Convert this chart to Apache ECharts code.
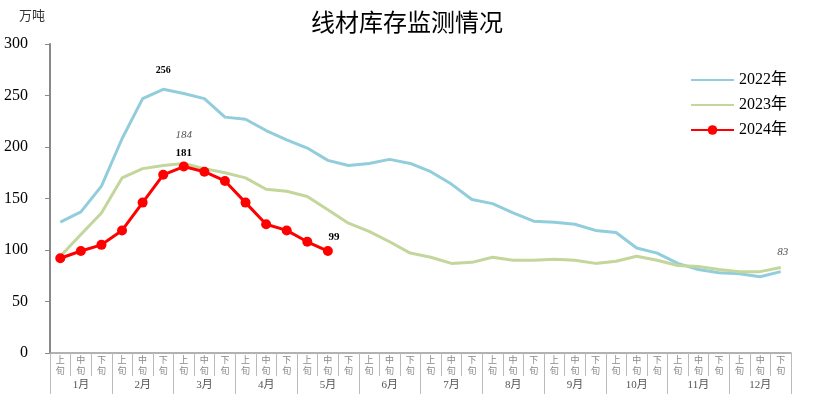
<!DOCTYPE html>
<html><head><meta charset="utf-8">
<script src="https://cdn.jsdelivr.net/npm/echarts@6/dist/echarts.min.js"></script>
<style>html,body{margin:0;padding:0;background:#fff}#c{width:814px;height:394px}</style>
</head><body><div id="c"></div>
<script>
const months = ['1月','2月','3月','4月','5月','6月','7月','8月','9月','10月','11月','12月'];
const periods = ['上\n旬','中\n旬','下\n旬'];
const categories = [];
months.forEach(m => periods.forEach(p => categories.push(m + p)));
const yTicks = [0, 50, 100, 150, 200, 250, 300];

const s2022 = [127,137,162,208,247,256,252,247,229,227,216,207,199,187,182,184,188,184,176,164,149,145,136,128,127,125,119,117,102,97,87,81,78,77,74,79];
const s2023 = [94,115,136,170,179,182,184,179,175,170,159,157,152,139,126,118,108,97,93,87,88,93,90,90,91,90,87,89,94,90,85,84,81,79,79,83];
const s2024 = [92,99,105,119,146,173,181,176,167,146,125,119,108,99];

const serif = '"Liberation Serif","DejaVu Serif","Noto Sans CJK SC",serif';
const cjk = '"Noto Sans CJK SC",sans-serif';

function withLabels(arr, labelMap, hiddenSymbol) {
  return arr.map((v, i) => {
    if (!labelMap[i]) return v;
    const item = {value: v, label: Object.assign({show: true}, labelMap[i])};
    if (hiddenSymbol) { item.symbol = 'circle'; item.symbolSize = 1; }
    return item;
  });
}

const bold = {position: 'top', fontSize: 11, fontWeight: 'bold', color: '#000', fontFamily: serif};
const ital = {position: 'top', fontSize: 11, fontStyle: 'italic', color: '#555', fontFamily: serif};

const chart = echarts.init(document.getElementById('c'));
chart.setOption({
  animation: false,
  title: {text: '线材库存监测情况', left: 'center', top: 5,
    textStyle: {fontFamily: cjk, fontSize: 24, fontWeight: 'normal', color: '#000'}},
  legend: {orient: 'vertical', left: 685, top: 67, itemWidth: 43, itemHeight: 12, itemGap: 9,
    textStyle: {fontFamily: serif, fontSize: 16, color: '#000'},
    data: [{name: '2022年', itemStyle: {opacity: 0}}, {name: '2023年', itemStyle: {opacity: 0}}, '2024年']},
  grid: {left: 50, right: 23, top: 44, bottom: 41},
  xAxis: [{
    type: 'category', data: categories, boundaryGap: true,
    axisLine: {lineStyle: {color: '#999', width: 1.5}},
    axisTick: {show: true, interval: 0, length: 23, lineStyle: {color: '#bbb'}},
    axisLabel: {interval: 0, margin: 1, fontSize: 9, lineHeight: 11, color: '#888', fontFamily: cjk,
      formatter: v => v.replace(/^\d+月/, '')}
  }, {
    type: 'category', data: months, position: 'bottom', boundaryGap: true,
    axisLine: {show: false},
    axisTick: {show: true, interval: 0, length: 41, lineStyle: {color: '#bbb'}},
    axisLabel: {interval: 0, margin: 27, fontSize: 11, color: '#555', fontFamily: serif}
  }],
  yAxis: {
    type: 'value', min: yTicks[0], max: yTicks[yTicks.length - 1], interval: 50,
    name: '万吨', nameGap: 22, nameTextStyle: {align: 'right', padding: [0, 5, 0, 0], fontSize: 13, color: '#333', fontFamily: cjk},
    axisLine: {show: true, lineStyle: {color: '#888', width: 2}},
    axisTick: {show: true, length: 5, lineStyle: {color: '#888'}},
    splitLine: {show: false},
    axisLabel: {margin: 22, fontSize: 16, color: '#000', fontFamily: serif}
  },
  series: [{
    name: '2022年', type: 'line',
    data: withLabels(s2022, {5: Object.assign({distance: 13}, bold, {fontSize: 10})}, true),
    symbol: 'none', lineStyle: {color: '#92CDDC', width: 3}, itemStyle: {color: '#92CDDC'}
  }, {
    name: '2023年', type: 'line',
    data: withLabels(s2023, {6: Object.assign({}, ital, {distance: 22}), 35: Object.assign({}, ital, {distance: 9, offset: [2, 0]})}, true),
    symbol: 'none', lineStyle: {color: '#C3D69B', width: 3}, itemStyle: {color: '#C3D69B'}
  }, {
    name: '2024年', type: 'line',
    data: withLabels(s2024, {6: Object.assign({distance: 3}, bold), 13: Object.assign({distance: 3, offset: [6, 0]}, bold)}, false),
    symbol: 'circle', symbolSize: 10, lineStyle: {color: '#FF0000', width: 3}, itemStyle: {color: '#FF0000'}
  }]
});
</script></body></html>
